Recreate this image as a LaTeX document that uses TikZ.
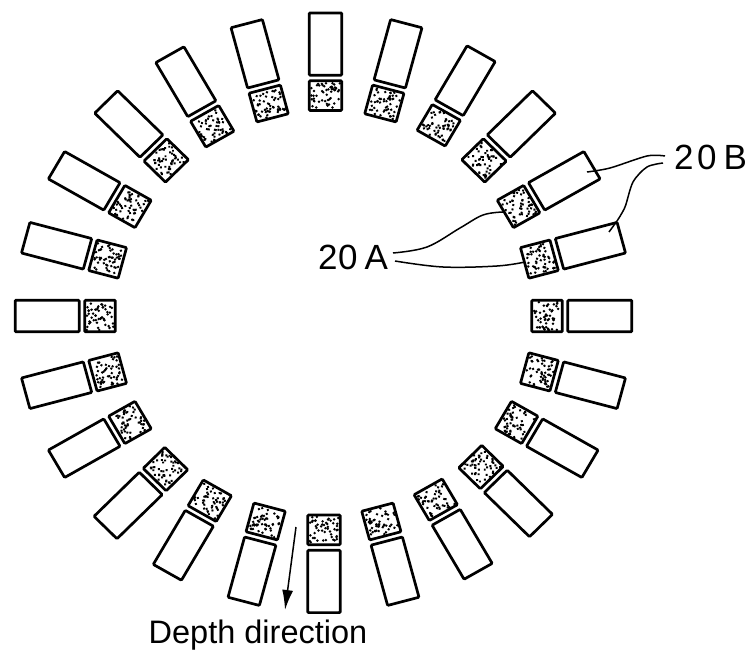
\documentclass[tikz,border=0pt]{standalone}
\usepackage{fontspec}
\usetikzlibrary{arrows.meta}
\setmainfont{Liberation Sans}
\begin{document}
\begin{tikzpicture}[x=1pt,y=-1pt,
  box/.style={draw=black,line width=2.7pt,rounded corners=1pt,fill=white,inner sep=0pt,outer sep=0pt,transform shape},
  whitebox/.style={box,minimum width=64pt,minimum height=32.5pt},
  shadebox/.style={box,minimum width=30.5pt,minimum height=32.5pt},
  lead/.style={draw=black,line width=1.5pt},
  lab/.style={font=\fontsize{35}{35}\selectfont,inner sep=0pt,anchor=west}]
\useasboundingbox (0,0) rectangle (752,658);
\pgfmathsetseed{7}
\foreach \a/\dx/\dy in {0/0/3,15/0/2.5,30/1.5/2.5,45/2.5/1.5,60/3.5/1,75/3/1,90/2/0.5,105/3/1,120/0.5/2,135/0.7/1.5,150/0/2.5,165/0/2.5,180/0/3,195/0/2.5,210/0/0.5,225/0/2,240/-2/-1,255/0/-2,270/0.5/-1,285/0/-2,300/0.5/-2,315/-0.5/0,330/-0.5/0.5,345/0/2.5}{
  \begin{scope}[shift={(323.5+\dx,313+\dy)},yscale=.975,rotate=\a]
    \node[whitebox] (w\a) at (276.3,0) {};
    \node[shadebox] (s\a) at (223.5,0) {};
    \foreach \k in {1,...,50}{
      \pgfmathsetmacro{\px}{223.5+13.5*rand}
      \pgfmathsetmacro{\py}{14.5*rand}
      \fill[black] (\px,\py) circle (1.4pt);
    }
  \end{scope}
}
\node[lab] (a) at (318,257) {2\kern0.5pt 0\kern7pt A};
\node[lab] (b) at (674,157) {2\kern3.5pt 0\kern7pt B};
\coordinate (b1) at (665,156);
\coordinate (b2) at (663,163);
\coordinate (a1) at (393,253);
\coordinate (a2) at (395,261);
\coordinate (e1) at (587,172);
\coordinate (e2) at (617,221);
\coordinate (e3) at (609,232);
\coordinate (e4) at (503,212);
\coordinate (e5) at (525,262);
\draw[lead] plot[smooth,tension=.5] coordinates {(b1) (647,156) (610,168) (e1)};
\draw[lead] plot[smooth,tension=.5] coordinates {(b2) (647,167) (633,182) (625,207) (e2)} -- (e3);
\draw[lead] plot[smooth,tension=.6] coordinates {(a1) (427,247) (460,228) (483,215) (e4)};
\draw[lead] plot[smooth,tension=.6] coordinates {(a2) (443,267) (497,266) (e5)};
\node[font=\fontsize{32.5}{33}\selectfont,inner sep=0pt] (d) at (258,635) {Depth direction};
\coordinate (t1) at (296,527);
\coordinate (t2) at (285,610);
\draw[line width=1.5pt,-{Latex[length=20pt,width=11pt]}] (t1) -- (t2);
\end{tikzpicture}
\end{document}
